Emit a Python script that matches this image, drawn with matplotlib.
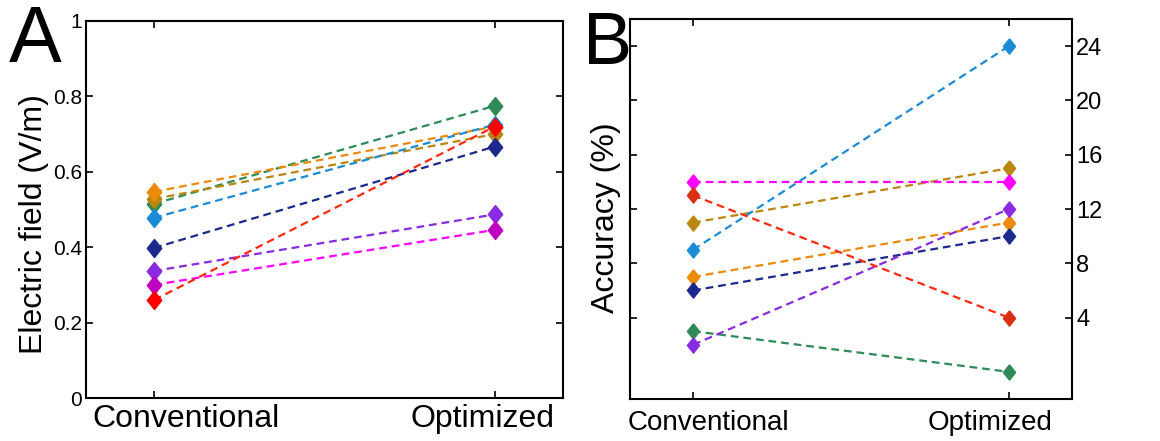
import matplotlib

matplotlib.use("Agg")
import matplotlib.pyplot as plt

plt.rcParams["font.family"] = ["Liberation Sans", "DejaVu Sans"]

# --- data -------------------------------------------------------------------------------
conditions = ["Conventional", "Optimized"]
series = ["green", "brown", "orange", "blue", "navy", "purple", "magenta", "red"]

field_conv = [0.515, 0.528, 0.547, 0.478, 0.398, 0.337, 0.300, 0.260]
field_opt = [0.775, 0.700, 0.720, 0.725, 0.667, 0.487, 0.446, 0.720]

acc_conv = [3, 11, 7, 9, 6, 2, 14, 13]
acc_opt = [0, 15, 11, 24, 10, 12, 14, 4]

field_ticks = [0, 0.2, 0.4, 0.6, 0.8, 1.0]
field_ticklabels = ["0", "0.2", "0.4", "0.6", "0.8", "1"]
acc_ticks = [4, 8, 12, 16, 20, 24]

line_colors = {
    "green": "#2E8B57", "brown": "#BA860F", "orange": "#EC8A0A", "blue": "#1A8CD6",
    "navy": "#1B2A8C", "purple": "#8A2BE2", "magenta": "#FF00FF", "red": "#FF2A10",
}
marker_a = dict(line_colors, magenta="#C000C0", red="#FF0000")
marker_b = dict(line_colors, magenta="#FF00FF", red="#D83010")

DIAMOND = [(0, 1), (0.8, 0), (0, -1), (-0.8, 0), (0, 1)]


def style_axes(ax, tick_size):
    for sp in ax.spines.values():
        sp.set_linewidth(1.5)
    ax.tick_params(direction="in", length=5, width=1.2, top=True, right=True,
                   labelsize=tick_size, pad=3)
    ax.set_xticks([1, 2])
    ax.set_xticklabels([])
    ax.set_xlim(0.8, 2.2)


def condition_labels(ax, left_x, right_x, y, size):
    # the category names sit flush with the box edges, not centred on the ticks
    ax.text(left_x, y, conditions[0], transform=ax.transAxes, ha="left",
            va="baseline", fontsize=size)
    ax.text(right_x, y, conditions[1], transform=ax.transAxes, ha="right",
            va="baseline", fontsize=size)


fig = plt.figure(figsize=(11.6, 4.41), dpi=100)

# --- panel A ----------------------------------------------------------------------------
ax1 = fig.add_axes([0.0741, 0.0975, 0.4112, 0.855])
for k, name in enumerate(series):
    ax1.plot([1, 2], [field_conv[k], field_opt[k]], ls="--", dashes=(3.5, 2.2), lw=1.6,
             color=line_colors[name], marker=DIAMOND, ms=13,
             mfc=marker_a[name], mec=marker_a[name])
style_axes(ax1, 15)
ax1.set_ylim(0, 1)
ax1.set_yticks(field_ticks)
ax1.set_yticklabels(field_ticklabels)
condition_labels(ax1, 0.013, 0.983, -0.077, 23)
ax1.set_ylabel("Electric field (V/m)", fontsize=23)
ax1.yaxis.set_label_coords(-0.078, 0.46)

# --- panel B ----------------------------------------------------------------------------
ax2 = fig.add_axes([0.5431, 0.0952, 0.381, 0.8617])
for k, name in enumerate(series):
    ax2.plot([1, 2], [acc_conv[k], acc_opt[k]], ls="--", dashes=(3.5, 2.2), lw=1.6,
             color=line_colors[name], marker=DIAMOND, ms=11,
             mfc=marker_b[name], mec=marker_b[name])
style_axes(ax2, 17)
ax2.set_ylim(-2, 26)
ax2.set_yticks(acc_ticks)
ax2.tick_params(labelleft=False, labelright=True)
condition_labels(ax2, -0.005, 0.957, -0.082, 20)
ax2.set_ylabel("Accuracy (%)", fontsize=23)
ax2.yaxis.set_label_coords(-0.021, 0.476)

fig.text(0.008, 0.86, "A", fontsize=57)
fig.text(0.503, 0.855, "B", fontsize=53)

fig.savefig("out.png", dpi=100)
